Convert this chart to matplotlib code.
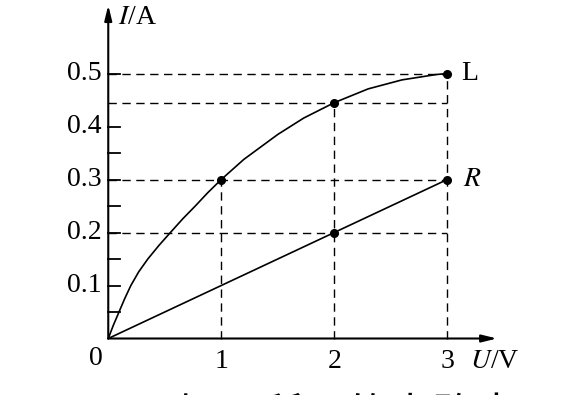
import numpy as np
import matplotlib
matplotlib.use('Agg')
import matplotlib.pyplot as plt

# curve L
uL = [0, 0.045, 0.095, 0.145, 0.2, 0.27, 0.35, 0.45, 0.55, 0.66, 0.77, 0.88, 1.0,
      1.2, 1.5, 1.73, 2.0, 2.3, 2.6, 2.9, 3.0]
iL = [0, 0.025, 0.05, 0.075, 0.10, 0.126, 0.15, 0.176, 0.20, 0.226, 0.25, 0.275, 0.30,
      0.338, 0.385, 0.416, 0.445, 0.471, 0.488, 0.498, 0.50]
# resistor R
uR = [0, 3]
iR = [0, 0.3]
# marked points
ptsU = [1, 2, 2, 3, 3]
ptsI = [0.3, 0.445, 0.2, 0.5, 0.3]
ytick_lab = [0.1, 0.2, 0.3, 0.4, 0.5]
yminor = [0.05, 0.1, 0.15, 0.2, 0.25, 0.3, 0.35, 0.4, 0.5]
xtick_lab = [1, 2, 3]

plt.rcParams['font.family'] = ['Liberation Serif', 'DejaVu Serif']
plt.rcParams['mathtext.fontset'] = 'stix'

fig = plt.figure(figsize=(5.64, 3.95), dpi=100)
ax = fig.add_axes([0, 0, 1, 1])
ax.set_xlim(-0.958, 4.033)
ax.set_ylim(-0.1066, 0.6387)
ax.axis('off')

k = 'black'
dash = dict(color=k, lw=1.0, dashes=(6, 4))

# dashed guide lines
for i in [0.5, 0.445, 0.3, 0.2]:
    ax.plot([0, 3], [i, i], **dash)
for u, i in [(1, 0.3), (2, 0.445), (3, 0.5)]:
    ax.plot([u, u], [0, i], **dash)

# axes with arrows
arr = dict(arrowstyle='-|>,head_length=0.9,head_width=0.22', color=k, lw=1.5,
           shrinkA=0, shrinkB=0)
ax.annotate('', xy=(3.44, 0), xytext=(0, 0), arrowprops=arr)
ax.annotate('', xy=(0, 0.629), xytext=(0, 0), arrowprops=arr)

for y in yminor:
    ax.plot([0, 0.106], [y, y], color=k, lw=1.3)

# curves
ax.plot(uL, iL, color=k, lw=1.2, solid_joinstyle='round')
ax.plot(uR, iR, color=k, lw=1.2)
ax.plot(ptsU, ptsI, 'o', color=k, ms=5.5)

# labels
fs = 20
for y in ytick_lab:
    ax.text(-0.056, y, '%.1f' % y, ha='right', va='center', fontsize=fs)
for x in xtick_lab:
    ax.text(x, -0.044, str(x), ha='center', va='center', fontsize=fs)
ax.text(-0.05, -0.037, '0', ha='right', va='center', fontsize=fs)
ax.text(3.2, -0.044, r'$U$/V', ha='left', va='center', fontsize=fs)
ax.text(0.09, 0.605, r'$I$/A', ha='left', va='center', fontsize=fs)
ax.text(3.12, 0.5, 'L', ha='left', va='center', fontsize=fs)
ax.text(3.14, 0.3, r'$R$', ha='left', va='center', fontsize=fs)

# clipped caption text at the bottom
fig.text(175 / 564, 1 - 429 / 395, '如图所示的电路中，电源', fontsize=31,
         family=['Noto Sans CJK SC', 'DejaVu Sans'], ha='left', va='baseline')

fig.savefig('out.png', dpi=100)
